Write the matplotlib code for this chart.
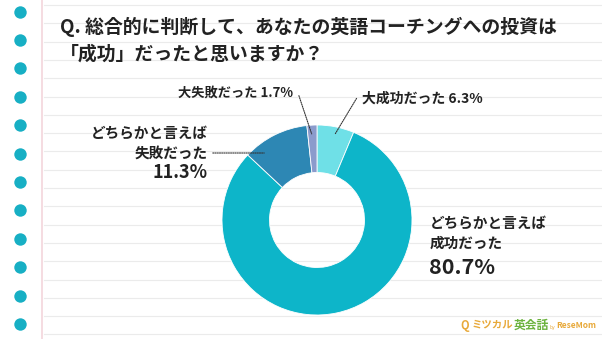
import matplotlib.pyplot as plt
import numpy as np

plt.rcParams['font.family'] = ['Noto Sans CJK JP', 'DejaVu Sans']

# data (clockwise from 12 o'clock)
labels = ['大成功だった', 'どちらかと言えば\n成功だった', 'どちらかと言えば\n失敗だった', '大失敗だった']
values = [6.3, 80.7, 11.3, 1.7]
colors = ['#6fe0e7', '#0db5c9', '#2d87b4', '#8b9bcc']
title = 'Q. 総合的に判断して、あなたの英語コーチングへの投資は\n「成功」だったと思いますか？'

W, H = 602, 339
fig = plt.figure(figsize=(W / 100, H / 100), dpi=100)
fig.patch.set_facecolor('white')

# notebook background, pixel coords
bg = fig.add_axes([0, 0, 1, 1])
bg.set_xlim(0, W)
bg.set_ylim(H, 0)
bg.axis('off')
for y in np.arange(5, H, 18.3):
    bg.plot([44, W], [y, y], color='#ebebeb', lw=0.8, zorder=1)
bg.plot([42, 42], [0, H], color='#f3d6dc', lw=1.2, zorder=2)
for y in np.arange(11.5, H, 28.4):
    bg.scatter(20, y, s=80, color='#17afc4', zorder=3, linewidths=0)

bg.text(60, 40.5, title, fontsize=13.6, fontweight='bold', color='#222222',
        va='center', ha='left', linespacing=1.5)

# donut
cx, cy, R = 317, 220, 95
ax = fig.add_axes([(cx - R) / W, (H - cy - R) / H, 2 * R / W, 2 * R / H])
wedges, _ = ax.pie(values, colors=colors, startangle=90, counterclock=False,
                   radius=1, wedgeprops=dict(width=0.5, edgecolor='white', linewidth=0.6))
ax.set_xlim(-1, 1)
ax.set_ylim(-1, 1)
ax.set_aspect('equal')
ax.axis('off')

def mid_point(w, r=0.9):
    a = np.deg2rad((w.theta1 + w.theta2) / 2)
    return r * np.cos(a), r * np.sin(a)

dot = dict(arrowstyle='-', color='#333333', lw=0.8, linestyle=(0, (1, 1)))

# 大成功
ax.annotate('', xy=mid_point(wedges[0]), xytext=(358, 96), textcoords=bg.transData,
            arrowprops=dot)
bg.text(362, 99, f'{labels[0]} {values[0]}%', fontsize=10, fontweight='bold',
        color='#222222', va='center', ha='left')

# 大失敗
ax.annotate('', xy=mid_point(wedges[3], 0.88), xytext=(298, 93), textcoords=bg.transData,
            arrowprops=dot)
bg.text(293, 93, f'{labels[3]} {values[3]}%', fontsize=9.5, fontweight='bold',
        color='#222222', va='center', ha='right')

# どちらかと言えば失敗
ly = 153
dy = (cy - ly) / R
ax.annotate('', xy=(-np.sqrt(0.88 ** 2 - dy ** 2), dy), xytext=(210, ly),
            textcoords=bg.transData, arrowprops=dot)
bg.text(208, 143, labels[2], fontsize=10.5, fontweight='bold', color='#222222',
        va='center', ha='right', linespacing=1.3)
bg.text(208, 173, f'{values[2]}%', fontsize=13, fontweight='bold', color='#222222',
        va='center', ha='right')

# どちらかと言えば成功
bg.text(430, 232.5, labels[1], fontsize=10.5, fontweight='bold', color='#222222',
        va='center', ha='left', linespacing=1.35)
bg.text(429, 268, f'{values[1]}%', fontsize=15.5, fontweight='bold', color='#222222',
        va='center', ha='left')

# logo
bg.text(460, 325, 'Q', fontsize=8, fontweight='bold', color='#e8a93a', va='center', ha='left')
bg.text(472, 325, 'ミツカル', fontsize=7.5, fontweight='bold', color='#e8a93a', va='center', ha='left')
bg.text(514, 325, '英会話', fontsize=8.5, fontweight='bold', color='#6cb33f', va='center', ha='left')
bg.text(550, 327, 'by', fontsize=3.5, color='#e8a93a', va='center', ha='left')
bg.text(556, 325, 'ReseMom', fontsize=6, fontweight='bold', color='#e8a93a', va='center', ha='left')

fig.savefig('out.png', dpi=100)
